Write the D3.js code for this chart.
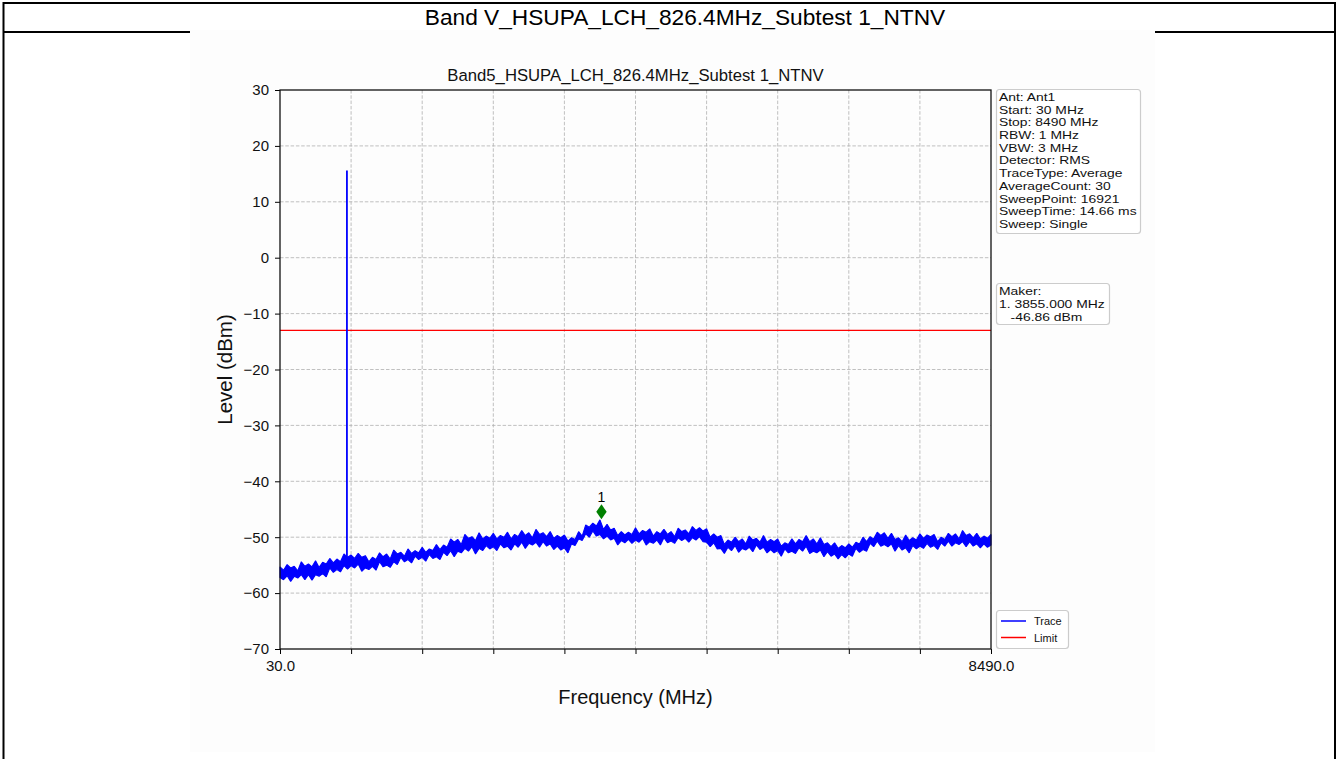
<!DOCTYPE html>
<html><head><meta charset="utf-8">
<script src="https://cdn.jsdelivr.net/npm/d3@7"></script>
<style>
html,body{margin:0;padding:0;background:#fff;}
svg{display:block;font-family:"Liberation Sans",Arial,sans-serif;}
</style></head><body>
<svg id="c" width="1338" height="759"></svg>
<script>
// ---------------- data ----------------
const pageTitle = "Band V_HSUPA_LCH_826.4MHz_Subtest 1_NTNV";
const chartTitle = "Band5_HSUPA_LCH_826.4MHz_Subtest 1_NTNV";
const xLabel = "Frequency (MHz)";
const yLabel = "Level (dBm)";
const traceStartMHz = 30;
const traceStopMHz = 8490;
const levelMin = -70, levelMax = 30;
// upper / lower edges of the noisy trace band, equally spaced from start to stop
const traceUpper = [
 -55.3,-55.9,-54.9,-55.5,-55.2,-56.0,-54.4,-55.2,-54.8,-55.3,
 -54.2,-55.4,-54.5,-54.8,-53.8,-54.6,-53.9,-54.4,-53.0,-53.6,
 -53.2,-53.8,-52.9,-53.6,-53.3,-54.4,-53.6,-54.0,-52.8,-53.5,
 -53.0,-53.9,-52.3,-53.0,-52.7,-53.4,-52.1,-52.9,-52.4,-52.8,
 -51.8,-52.7,-52.1,-52.4,-51.3,-52.2,-51.4,-51.8,-50.3,-50.9,
 -50.4,-51.3,-49.5,-50.2,-49.9,-50.6,-49.2,-50.3,-49.8,-50.2,
 -49.3,-50.3,-49.7,-50.0,-49.1,-50.3,-49.5,-49.9,-48.8,-49.7,
 -49.2,-50.1,-48.6,-49.5,-49.2,-49.9,-49.0,-50.2,-49.7,-50.1,
 -49.6,-50.7,-50.1,-50.4,-49.0,-49.8,-47.8,-48.2,-47.5,-48.0,
 -46.9,-48.6,-47.7,-48.7,-48.4,-49.7,-49.0,-49.6,-49.1,-49.5,
 -48.3,-49.4,-48.8,-49.1,-48.5,-49.8,-49.0,-49.4,-48.6,-49.5,
 -49.0,-49.9,-48.4,-49.0,-48.7,-49.4,-48.1,-48.8,-48.3,-48.9,
 -48.5,-50.0,-49.4,-50.0,-49.7,-51.3,-50.5,-50.9,-50.0,-50.8,
 -50.3,-51.2,-49.8,-50.5,-50.2,-50.9,-49.7,-50.9,-50.4,-50.8,
 -50.3,-51.6,-51.0,-51.3,-50.3,-51.2,-50.4,-50.8,-49.7,-50.8,
 -50.3,-51.2,-50.1,-51.3,-51.0,-51.7,-51.0,-52.0,-51.5,-51.9,
 -51.2,-51.8,-50.9,-51.2,-50.0,-50.8,-49.9,-50.3,-49.1,-49.7,
 -49.2,-50.2,-49.3,-50.4,-50.1,-50.8,-49.6,-50.6,-50.1,-50.5,
 -49.4,-50.2,-49.6,-49.9,-49.5,-50.8,-50.0,-50.4,-49.3,-49.9,
 -49.4,-50.3,-48.8,-49.7,-49.4,-50.1,-49.3,-50.3,-49.8,-50.2,
 -49.5];
const traceLower = [
 -57.2,-57.6,-56.9,-57.9,-57.0,-57.3,-56.7,-57.6,-56.7,
 -57.7,-56.7,-57.0,-56.5,-57.1,-55.5,-56.3,-55.8,-56.2,-55.1,
 -55.7,-55.1,-55.5,-54.8,-56.1,-55.5,-55.8,-55.2,-55.9,-54.4,
 -55.3,-55.0,-55.4,-54.4,-54.9,-53.6,-54.4,-54.0,-54.6,-53.4,
 -54.0,-53.6,-54.3,-53.1,-53.8,-53.5,-54.0,-52.7,-53.3,-52.4,
 -53.5,-52.5,-52.8,-52.0,-52.5,-51.7,-53.0,-52.0,-52.4,-51.5,
 -52.1,-51.7,-52.4,-51.2,-51.9,-51.6,-52.3,-51.2,-51.8,-50.9,
 -52.0,-51.1,-51.4,-50.9,-51.8,-50.8,-51.6,-51.2,-52.2,-51.6,
 -52.3,-51.9,-52.8,-51.2,-51.5,-50.3,-50.6,-49.4,-50.0,-48.9,
 -49.8,-49.5,-50.3,-49.8,-50.5,-50.2,-51.4,-50.6,-51.0,-50.4,
 -51.1,-50.5,-50.9,-50.2,-51.4,-50.8,-51.1,-50.5,-51.4,-50.1,
 -51.0,-50.7,-51.1,-50.1,-50.6,-50.2,-50.9,-50.1,-50.5,-49.9,
 -50.8,-50.9,-51.7,-51.0,-52.1,-52.0,-52.9,-51.8,-52.4,-51.5,
 -52.7,-52.0,-52.3,-51.8,-52.6,-51.4,-52.2,-51.8,-52.8,-52.2,
 -52.8,-52.4,-53.4,-52.1,-52.8,-52.5,-52.9,-51.9,-52.5,-51.6,
 -52.9,-52.5,-52.8,-52.3,-53.5,-52.6,-53.4,-53.0,-53.9,-53.1,
 -53.7,-53.0,-53.4,-52.0,-52.7,-52.2,-52.5,-51.1,-51.7,-50.7,
 -51.6,-51.3,-51.7,-51.2,-52.5,-51.5,-52.3,-51.9,-52.8,-51.5,
 -52.1,-51.6,-52.0,-51.1,-51.8,-51.5,-52.2,-51.0,-51.6,-50.7,
 -51.6,-51.0,-51.3,-50.8,-51.7,-50.8,-51.6,-51.2,-51.9,-51.2,
 -51.8,-51.4];
const spikeFreqMHz = 826.4;
const spikeLevelDbm = 15.6;
const spikeBaseDbm = -54.5;
const limitLevelDbm = -13;
const markerFreqMHz = 3855.0;
const markerLevelDbm = -46.86;
const markerLabel = "1";
const yTickValues = [30, 20, 10, 0, -10, -20, -30, -40, -50, -60, -70];
const xTickValues = [30, 876, 1722, 2568, 3414, 4260, 5106, 5952, 6798, 7644, 8490];
const xTickLabels = ["30.0", "", "", "", "", "", "", "", "", "", "8490.0"];
const infoLines = ["Ant: Ant1", "Start: 30 MHz", "Stop: 8490 MHz", "RBW: 1 MHz", "VBW: 3 MHz",
  "Detector: RMS", "TraceType: Average", "AverageCount: 30", "SweepPoint: 16921",
  "SweepTime: 14.66 ms", "Sweep: Single"];
const markerLines = ["Maker:", "1. 3855.000 MHz", "   -46.86 dBm"];
const legendNames = ["Trace", "Limit"];

// ---------------- drawing ----------------
const svg = d3.select("#c");
const COL_TRACE = "#0000ff", COL_LIMIT = "#ff0000", COL_MARK = "#008000";

// page frame
svg.append("rect").attr("x",0).attr("y",0).attr("width",1338).attr("height",759).attr("fill","#fff");
svg.append("line").attr("x1",3).attr("x2",1336).attr("y1",3).attr("y2",3).attr("stroke","#000").attr("stroke-width",2);
svg.append("line").attr("x1",3).attr("x2",1336).attr("y1",32).attr("y2",32).attr("stroke","#000").attr("stroke-width",2);
svg.append("line").attr("x1",3.5).attr("x2",3.5).attr("y1",2).attr("y2",759).attr("stroke","#000").attr("stroke-width",2);
svg.append("line").attr("x1",1335).attr("x2",1335).attr("y1",2).attr("y2",759).attr("stroke","#000").attr("stroke-width",2);
svg.append("text").attr("x",685).attr("y",25).attr("text-anchor","middle")
  .attr("font-size",22.7).attr("fill","#000").text(pageTitle);

// chart image background (covers the separator line)
svg.append("rect").attr("x",190).attr("y",30).attr("width",965).attr("height",722).attr("fill","#fdfdfd");

const plot = {left:280, right:991, top:90, bottom:649};
const x = d3.scaleLinear().domain([traceStartMHz, traceStopMHz]).range([plot.left, plot.right]);
const y = d3.scaleLinear().domain([levelMin, levelMax]).range([plot.bottom, plot.top]);

// grid
const grid = svg.append("g").attr("stroke","#b0b0b0").attr("stroke-width",0.8).attr("stroke-dasharray","3.5,1.8");
grid.selectAll("line.v").data(xTickValues.slice(1,-1)).join("line")
  .attr("x1",d=>x(d)).attr("x2",d=>x(d)).attr("y1",plot.top).attr("y2",plot.bottom);
grid.selectAll("line.h").data(yTickValues.slice(1,-1)).join("line")
  .attr("x1",plot.left).attr("x2",plot.right).attr("y1",d=>y(d)).attr("y2",d=>y(d));

// limit line
svg.append("line").attr("x1",x(traceStartMHz)).attr("x2",x(traceStopMHz))
  .attr("y1",y(limitLevelDbm)).attr("y2",y(limitLevelDbm))
  .attr("stroke",COL_LIMIT).attr("stroke-width",1.3);

// trace band
const n = traceUpper.length;
const step = (traceStopMHz - traceStartMHz) / (n - 1);
const band = traceUpper.map((u,i)=>({f: traceStartMHz + i*step, u, l: traceLower[i]}));
const area = d3.area().x(d=>x(d.f)).y0(d=>y(d.l)).y1(d=>y(d.u));
svg.append("path").datum(band).attr("d",area)
  .attr("fill",COL_TRACE).attr("stroke",COL_TRACE).attr("stroke-width",1.1).attr("stroke-linejoin","bevel");

// spike
const spike = [{f: spikeFreqMHz, v: spikeBaseDbm}, {f: spikeFreqMHz, v: spikeLevelDbm}];
svg.append("path").datum(spike).attr("d", d3.line().x(d=>x(d.f)).y(d=>y(d.v)))
  .attr("stroke",COL_TRACE).attr("stroke-width",1.8).attr("fill","none");

// marker
const markerOffsetDb = 1.4;
const mx = x(markerFreqMHz), my = y(markerLevelDbm + markerOffsetDb);
svg.append("path").attr("d", d3.symbol(d3.symbolDiamond).size(65)())
  .attr("transform",`translate(${mx},${my}) scale(1.2,1)`).attr("fill",COL_MARK);
svg.append("text").attr("x",mx).attr("y",my-9.5).attr("text-anchor","middle")
  .attr("font-size",14).attr("fill","#000").text(markerLabel);

// axes
const fmtY = d => d < 0 ? "\u2212" + Math.abs(d) : String(d);
const yAxis = svg.append("g").attr("transform",`translate(${plot.left},0)`)
  .call(d3.axisLeft(y).tickValues(yTickValues).tickSize(5).tickPadding(6).tickFormat(fmtY));
const xAxis = svg.append("g").attr("transform",`translate(0,${plot.bottom})`)
  .call(d3.axisBottom(x).tickValues(xTickValues).tickSize(5).tickPadding(6).tickFormat((d,i)=>xTickLabels[i]));
[yAxis, xAxis].forEach(g=>{
  g.select(".domain").remove();
  g.selectAll(".tick line").attr("stroke","#000").attr("stroke-width",1);
  g.selectAll(".tick text").attr("font-size",15).attr("fill","#111").attr("font-family","'Liberation Sans',Arial,sans-serif");
});
// spines
svg.append("rect").attr("x",plot.left).attr("y",plot.top)
  .attr("width",plot.right-plot.left).attr("height",plot.bottom-plot.top)
  .attr("fill","none").attr("stroke","#111").attr("stroke-width",1.3);

// titles and labels
svg.append("text").attr("x",(plot.left+plot.right)/2).attr("y",81).attr("text-anchor","middle")
  .attr("font-size",16.7).attr("fill","#111").text(chartTitle);
svg.append("text").attr("x",(plot.left+plot.right)/2).attr("y",704).attr("text-anchor","middle")
  .attr("font-size",20).attr("fill","#111").text(xLabel);
svg.append("text").attr("transform",`translate(232,${(plot.top+plot.bottom)/2}) rotate(-90)`)
  .attr("text-anchor","middle").attr("font-size",20.5).attr("fill","#111").text(yLabel);

// text boxes (the picture's box text is slightly stretched horizontally)
function textBox(lines, bx, by, bw, bh, fs, lh, firstBase){
  svg.append("rect").attr("x",bx).attr("y",by).attr("width",bw).attr("height",bh).attr("rx",3)
    .attr("fill","#fff").attr("stroke","#cccccc").attr("stroke-width",1.2);
  const g = svg.append("g").attr("transform",`translate(${bx+2.5},0) scale(1.24,1)`);
  lines.forEach((s,i)=>{
    g.append("text").attr("x",0).attr("y",firstBase+i*lh).attr("font-size",fs)
      .attr("fill","#111").style("white-space","pre").text(s);
  });
}
textBox(infoLines, 996.5, 89.5, 144, 144, 11.2, 12.7, 101);
textBox(markerLines, 996.5, 283.5, 113, 41, 11.2, 12.9, 295);

// legend
const leg = svg.append("g");
leg.append("rect").attr("x",996.5).attr("y",610.5).attr("width",72).attr("height",38).attr("rx",3)
  .attr("fill","#fff").attr("stroke","#cccccc").attr("stroke-width",1.2);
const legColors = [COL_TRACE, COL_LIMIT];
legendNames.forEach((nm,i)=>{
  const ly = 621 + i*16.5;
  leg.append("line").attr("x1",1001).attr("x2",1026).attr("y1",ly).attr("y2",ly)
    .attr("stroke",legColors[i]).attr("stroke-width",1.5);
  leg.append("text").attr("x",1034).attr("y",ly+4).attr("font-size",11).attr("fill","#111").text(nm);
});
</script></body></html>
